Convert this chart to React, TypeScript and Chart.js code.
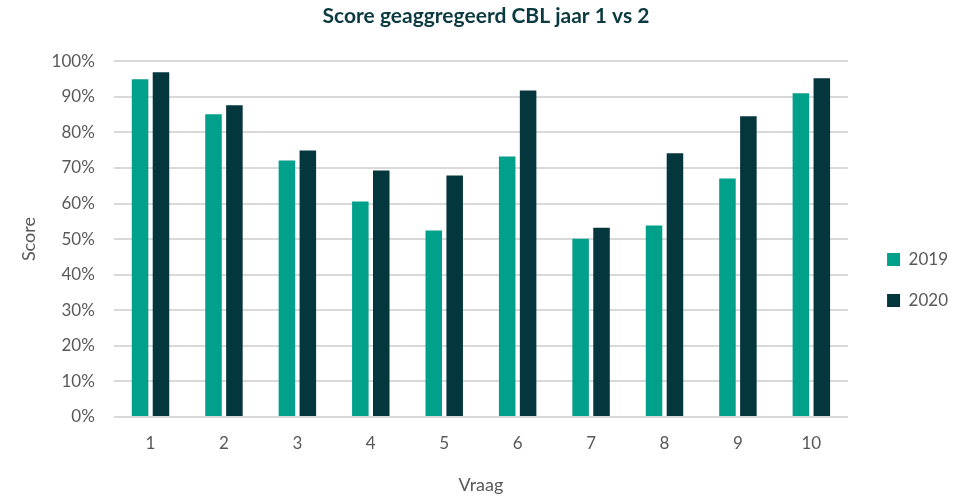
import React, { useEffect, useRef } from "react";
import { Chart, registerables } from "chart.js";

Chart.register(...registerables);

const categories = ["1", "2", "3", "4", "5", "6", "7", "8", "9", "10"];
const series2019 = [94.9, 85.1, 72.1, 60.6, 52.4, 73.2, 50.1, 53.8, 67.0, 91.0];
const series2020 = [96.9, 87.6, 74.9, 69.3, 67.9, 91.8, 53.2, 74.1, 84.5, 95.2];
const seriesNames = ["2019", "2020"];
const titleText = "Score geaggregeerd CBL jaar 1 vs 2";

const FONT = "Lato, 'Open Sans', sans-serif";

export default function App() {
  const ref = useRef<HTMLCanvasElement | null>(null);
  useEffect(() => {
    document.body.style.margin = "0";
    const ctx = ref.current!;
    const chart = new Chart(ctx, {
      type: "bar",
      data: {
        labels: categories,
        datasets: [
          {
            label: seriesNames[0],
            data: series2019,
            backgroundColor: "#00A08A",
            categoryPercentage: 0.57,
            barPercentage: 0.79,
          },
          {
            label: seriesNames[1],
            data: series2020,
            backgroundColor: "#04363D",
            categoryPercentage: 0.57,
            barPercentage: 0.79,
          },
        ],
      },
      options: {
        animation: false,
        responsive: false,
        maintainAspectRatio: false,
        layout: { padding: { left: 14, right: 14, top: 2, bottom: 6 } },
        plugins: {
          title: {
            display: true,
            text: titleText,
            color: "#0B3A40",
            font: { family: FONT, size: 21, weight: "bold" },
            padding: { top: 2, bottom: 32 },
          },
          legend: {
            position: "right",
            align: "center",
            title: {
              display: true,
              text: "",
              font: { family: FONT, size: 10 },
              padding: { top: 0, bottom: 48 },
            },
            labels: {
              color: "#595959",
              font: { family: FONT, size: 17 },
              boxWidth: 13,
              boxHeight: 13,
              padding: 24,
            },
          },
          tooltip: { enabled: false },
        },
        scales: {
          x: {
            grid: { display: false, drawTicks: false },
            border: { display: false },
            ticks: {
              color: "#595959",
              font: { family: FONT, size: 17 },
              padding: 16,
            },
            title: {
              display: true,
              text: "Vraag",
              color: "#595959",
              font: { family: FONT, size: 18 },
              padding: { top: 5, bottom: 2 },
            },
          },
          y: {
            min: 0,
            max: 100,
            grid: { color: "#D9D9D9", lineWidth: 2, drawTicks: false },
            border: { display: false },
            ticks: {
              stepSize: 10,
              color: "#595959",
              font: { family: FONT, size: 17 },
              padding: 19,
              callback: (v: any) => v + "%",
            },
            title: {
              display: true,
              text: "Score",
              color: "#595959",
              font: { family: FONT, size: 18 },
              padding: { top: 4, bottom: -7 },
            },
          },
          spacer: {
            type: "linear",
            position: "right",
            display: true,
            grid: { display: false, drawTicks: false },
            border: { display: false },
            ticks: { display: false },
            afterFit: (s: any) => {
              s.width = 15;
            },
          },
        },
      },
    } as any);
    return () => chart.destroy();
  }, []);
  return (
    <div style={{ position: "fixed", left: 0, top: 0, width: 972, height: 504, background: "#fff" }}>
      <canvas ref={ref} width={972} height={504} />
    </div>
  );
}
